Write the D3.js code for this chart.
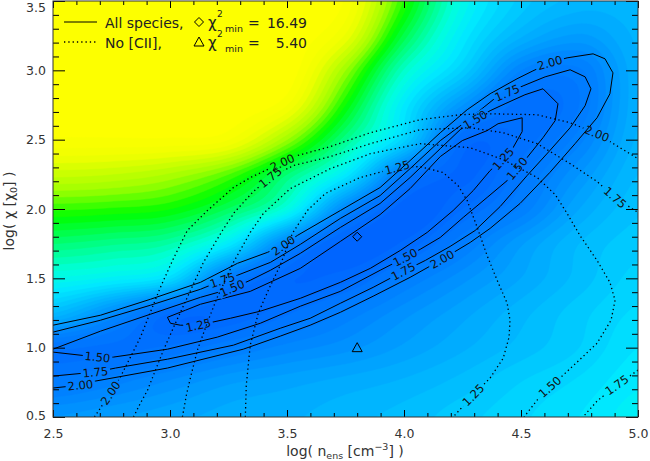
<!DOCTYPE html>
<html>
<head>
<meta charset="utf-8">
<title>chi2 map</title>
<script src="https://cdn.jsdelivr.net/npm/d3@7"></script>
<style>
  body { margin: 0; background: #fff; }
  svg text { font-family: "DejaVu Sans", sans-serif; }
  .axis text { font-size: 12.5px; fill: #333; }
  .axis path { display: none; }
  .axis line { stroke: #000; }
  .clab { font-size: 11.5px; fill: #111; }
</style>
</head>
<body>
<svg id="chart" width="650" height="461"></svg>
<script>
// ---- data ----
var xTicks = [2.5, 3.0, 3.5, 4.0, 4.5, 5.0];
var yTicks = [0.5, 1.0, 1.5, 2.0, 2.5, 3.0, 3.5];

// background chi^2 level (colour index 0..1) on a coarse grid
var gridX = [2.5, 2.75, 3.0, 3.25, 3.5, 3.75, 4.0, 4.25, 4.5, 4.75, 5.0];
var gridY = [3.5, 3.25, 3.0, 2.75, 2.5, 2.25, 2.0, 1.75, 1.5, 1.25, 1.0, 0.75, 0.5];
var levelRows = [
  [1.00, 1.00, 1.00, 1.00, 1.00, 0.97, 0.72, 0.47, 0.34, 0.29, 0.29],
  [1.00, 1.00, 1.00, 1.00, 1.00, 0.92, 0.64, 0.42, 0.28, 0.22, 0.28],
  [1.00, 1.00, 1.00, 1.00, 1.00, 0.80, 0.52, 0.35, 0.15, 0.12, 0.27],
  [1.00, 1.00, 1.00, 1.00, 0.95, 0.70, 0.42, 0.20, 0.06, 0.10, 0.27],
  [0.97, 0.97, 0.97, 0.95, 0.80, 0.58, 0.36, 0.05, 0.06, 0.14, 0.28],
  [0.86, 0.85, 0.82, 0.75, 0.60, 0.42, 0.11, 0.02, 0.09, 0.20, 0.30],
  [0.73, 0.72, 0.70, 0.62, 0.48, 0.16, 0.01, 0.05, 0.13, 0.25, 0.32],
  [0.60, 0.58, 0.55, 0.42, 0.15, 0.01, 0.03, 0.12, 0.22, 0.30, 0.34],
  [0.47, 0.44, 0.38, 0.12, 0.03, 0.04, 0.12, 0.19, 0.25, 0.31, 0.36],
  [0.30, 0.18, 0.05, 0.03, 0.07, 0.13, 0.19, 0.24, 0.29, 0.34, 0.38],
  [0.08, 0.07, 0.08, 0.12, 0.16, 0.19, 0.23, 0.27, 0.31, 0.35, 0.40],
  [0.11, 0.14, 0.18, 0.22, 0.24, 0.26, 0.28, 0.31, 0.35, 0.38, 0.42],
  [0.20, 0.22, 0.24, 0.26, 0.27, 0.29, 0.31, 0.34, 0.37, 0.40, 0.44]
];
var colorStops = [0, 0.15, 0.30, 0.42, 0.50, 0.60, 0.70, 0.80, 0.92, 1.0];
var colorRange = ["#0062ff", "#0084ff", "#00b9ff", "#00ebff", "#00ffdc", "#00ff78", "#00ff00", "#a0ff00", "#f0ff00", "#ffff00"];

// "All species" contours (solid)
var solid200 = [[2.500,0.709],[2.617,0.730],[2.681,0.759],[2.989,0.853],[3.313,0.989],[3.471,1.083],[3.599,1.162],
  [3.728,1.255],[3.868,1.371],[4.026,1.507],[4.163,1.637],[4.283,1.759],[4.368,1.860],[4.496,2.040],[4.623,2.263],
  [4.731,2.471],[4.825,2.658],[4.880,2.831],[4.893,2.982],[4.859,3.083],[4.808,3.119],[4.697,3.090],[4.623,3.054],
  [4.551,2.996],[4.483,2.939],[4.368,2.831],[4.270,2.716],[4.155,2.550],[4.026,2.349],[3.898,2.155],[3.728,1.989],
  [3.544,1.809],[3.484,1.737],[3.416,1.687],[3.288,1.608],[3.130,1.471],[2.916,1.349],[2.703,1.234],[2.500,1.162]];
var solid175 = [[2.500,0.795],[2.681,0.824],[2.767,0.853],[2.989,0.917],[3.271,1.018],[3.471,1.140],[3.599,1.212],
  [3.728,1.320],[3.868,1.435],[3.997,1.550],[4.091,1.629],[4.197,1.730],[4.304,1.845],[4.411,2.018],[4.526,2.241],
  [4.623,2.421],[4.710,2.586],[4.774,2.745],[4.799,2.867],[4.774,2.953],[4.710,3.004],[4.603,2.953],[4.509,2.888],
  [4.441,2.838],[4.381,2.788],[4.270,2.637],[4.155,2.493],[4.026,2.291],[3.898,2.097],[3.728,1.932],[3.557,1.745],
  [3.429,1.615],[3.288,1.522],[3.224,1.486],[3.130,1.421],[2.916,1.306],[2.703,1.198],[2.500,1.112]];
var solid150 = [[2.500,0.968],[2.690,0.932],[2.758,0.932],[2.989,0.989],[3.202,1.076],[3.386,1.176],[3.557,1.299],
  [3.728,1.406],[3.898,1.558],[4.005,1.651],[4.069,1.709],[4.155,1.795],[4.253,1.939],[4.355,2.083],[4.441,2.205],
  [4.483,2.291],[4.526,2.371],[4.594,2.514],[4.646,2.637],[4.658,2.759],[4.594,2.867],[4.517,2.824],[4.432,2.759],
  [4.368,2.709],[4.304,2.644],[4.240,2.572],[4.155,2.435],[4.026,2.227],[3.898,2.040],[3.728,1.867],[3.557,1.680],
  [3.429,1.558],[3.343,1.486],[3.266,1.428],[3.130,1.363],[2.916,1.241],[2.703,1.119],[2.500,0.989]];
var solid125 = [[2.989,1.219],[3.066,1.270],[3.130,1.313],[3.343,1.406],[3.557,1.572],[3.728,1.766],[3.898,1.960],
  [4.026,2.147],[4.155,2.378],[4.249,2.493],[4.355,2.565],[4.402,2.615],[4.505,2.658],[4.505,2.558],[4.466,2.442],
  [4.424,2.363],[4.368,2.277],[4.296,2.133],[4.210,1.989],[4.099,1.831],[3.984,1.701],[3.856,1.572],[3.728,1.471],
  [3.557,1.356],[3.386,1.263],[3.258,1.212],[3.121,1.162],[3.044,1.162],[3.002,1.176],[2.989,1.219]];

// "No [CII]" contours (dotted)
var dotted200 = [[2.677,0.500],[2.711,0.586],[2.746,0.673],[2.788,0.788],[2.831,0.932],[2.874,1.076],[2.916,1.255],
  [2.959,1.435],[3.015,1.644],[3.074,1.845],[3.160,1.989],[3.271,2.155],[3.352,2.234],[3.416,2.284],[3.480,2.335],
  [3.544,2.385],[3.685,2.450],[3.856,2.550],[4.069,2.644],[4.240,2.680],[4.355,2.687],[4.569,2.680],[4.710,2.622],
  [4.825,2.543],[4.923,2.442],[5.000,2.363]];
var dotted175 = [[2.844,0.500],[2.874,0.601],[2.904,0.694],[2.938,0.838],[2.972,0.982],[3.023,1.176],[3.074,1.363],
  [3.143,1.615],[3.224,1.845],[3.275,1.975],[3.356,2.126],[3.429,2.227],[3.527,2.313],[3.685,2.378],[3.856,2.471],
  [4.069,2.572],[4.283,2.586],[4.424,2.550],[4.569,2.471],[4.710,2.327],[4.825,2.198],[4.902,2.083],[5.000,1.975]];
var dotted175b = [[5.000,0.838],[4.953,0.781],[4.910,0.730],[4.825,0.615],[4.765,0.500]];
var dotted150 = [[3.053,0.500],[3.070,0.658],[3.087,0.781],[3.117,0.982],[3.160,1.183],[3.202,1.363],[3.271,1.615],
  [3.343,1.831],[3.399,1.968],[3.514,2.147],[3.685,2.291],[3.856,2.399],[4.069,2.471],[4.283,2.442],[4.424,2.356],
  [4.569,2.227],[4.646,2.104],[4.697,1.968],[4.752,1.809],[4.825,1.629],[4.880,1.471],[4.902,1.342],[4.885,1.198],
  [4.825,1.032],[4.740,0.896],[4.680,0.802],[4.623,0.716],[4.569,0.622],[4.513,0.500]];
var dotted125 = [[3.322,0.500],[3.326,0.730],[3.343,1.018],[3.377,1.248],[3.420,1.414],[3.471,1.594],[3.523,1.824],
  [3.587,1.989],[3.664,2.112],[3.813,2.227],[3.971,2.299],[4.069,2.306],[4.167,2.263],[4.231,2.169],[4.270,2.061],
  [4.313,1.867],[4.355,1.665],[4.398,1.486],[4.441,1.320],[4.453,1.198],[4.449,1.076],[4.424,0.924],[4.368,0.781],
  [4.296,0.658],[4.210,0.500]];

// label anchors [x, y] on each contour
var solid200Labels = [[2.617,0.730],[3.484,1.737],[4.623,3.054],[4.163,1.637]];
var solid175Labels = [[2.681,0.824],[3.224,1.486],[4.441,2.838],[3.997,1.550]];
var solid150Labels = [[2.690,0.932],[3.266,1.428],[4.304,2.644],[4.483,2.291],[4.005,1.651]];
var solid125Labels = [[3.121,1.162],[4.424,2.363]];
var dotted200Labels = [[2.746,0.673],[3.480,2.335],[4.825,2.543]];
var dotted175Labels = [[3.429,2.227],[4.902,2.083]];
var dotted175bLabels = [[4.910,0.730]];
var dotted150Labels = [[4.623,0.716]];
var dotted125Labels = [[3.971,2.299],[4.296,0.658]];

// best-fit points
var minAll = [3.8, 1.8];      // diamond, chi2_min = 16.49
var minNoCII = [3.8, 1.0];    // triangle, chi2_min = 5.40

// ---- chart ----
var margin = {top: 1, right: 12, bottom: 44, left: 53};
var W = 650 - margin.left - margin.right;
var H = 461 - margin.top - margin.bottom;

var svg = d3.select("#chart");
var g = svg.append("g").attr("transform", "translate(" + margin.left + "," + margin.top + ")");

var x = d3.scaleLinear().domain([2.5, 5.0]).range([0, W]);
var y = d3.scaleLinear().domain([0.5, 3.5]).range([H, 0]);
var color = d3.scaleLinear().domain(colorStops).range(colorRange).clamp(true);

svg.append("defs").append("clipPath").attr("id", "plotclip")
  .append("rect").attr("width", W).attr("height", H);

// smooth the coarse grid onto a fine one for the filled contours
function cr(p0, p1, p2, p3, t) {
  return 0.5 * (2 * p1 + (-p0 + p2) * t + (2 * p0 - 5 * p1 + 4 * p2 - p3) * t * t + (-p0 + 3 * p1 - 3 * p2 + p3) * t * t * t);
}
function cell(r, c) {
  r = Math.max(0, Math.min(levelRows.length - 1, r));
  c = Math.max(0, Math.min(gridX.length - 1, c));
  return levelRows[r][c];
}
function sample(cx, cy) {
  var i = Math.min(Math.floor(cx), gridX.length - 2), j = Math.min(Math.floor(cy), gridY.length - 2);
  var tx = cx - i, ty = cy - j, col = [];
  for (var m = -1; m <= 2; m++) {
    col.push(cr(cell(j + m, i - 1), cell(j + m, i), cell(j + m, i + 1), cell(j + m, i + 2), tx));
  }
  return cr(col[0], col[1], col[2], col[3], ty);
}

var nx = 126, ny = 151;
var stepX = (gridX[gridX.length - 1] - gridX[0]) / (nx - 1);
var stepY = (gridY[0] - gridY[gridY.length - 1]) / (ny - 1);
var dgx = gridX[1] - gridX[0], dgy = gridY[0] - gridY[1];
var fine = new Array(nx * ny);
for (var j = 0; j < ny; j++) {
  for (var i = 0; i < nx; i++) {
    var xv = gridX[0] + i * stepX, yv = gridY[0] - j * stepY;
    var v = sample((xv - gridX[0]) / dgx, (gridY[0] - yv) / dgy);
    fine[j * nx + i] = Math.max(0, Math.min(1, v));
  }
}

var thresholds = d3.range(0, 1, 0.025);
var bands = d3.contours().size([nx, ny]).thresholds(thresholds)(fine);
var proj = d3.geoTransform({
  point: function (px, py) {
    this.stream.point(x(gridX[0] + (px - 0.5) * stepX), y(gridY[0] - (py - 0.5) * stepY));
  }
});
var bgPath = d3.geoPath(proj);

var bg = g.append("g").attr("clip-path", "url(#plotclip)");
bg.append("rect").attr("width", W).attr("height", H).attr("fill", color(0));
bg.selectAll("path.band")
  .data(bands)
  .enter().append("path")
  .attr("class", "band")
  .attr("d", bgPath)
  .attr("fill", function (d) { return color(d.value + 0.0125); })
  .attr("stroke", function (d) { return color(d.value + 0.0125); })
  .attr("stroke-width", 0.5);

// ---- contour lines with labelled gaps ----
var line = d3.line().x(function (d) { return x(d[0]); }).y(function (d) { return y(d[1]); });

function snap(pts, lx, ly) {
  var best = null;
  for (var k = 0; k < pts.length - 1; k++) {
    var x1 = x(pts[k][0]), y1 = y(pts[k][1]), x2 = x(pts[k + 1][0]), y2 = y(pts[k + 1][1]);
    var dx = x2 - x1, dy = y2 - y1, L2 = dx * dx + dy * dy;
    var t = L2 ? ((lx - x1) * dx + (ly - y1) * dy) / L2 : 0;
    t = Math.max(0, Math.min(1, t));
    var px = x1 + t * dx, py = y1 + t * dy, d = (px - lx) * (px - lx) + (py - ly) * (py - ly);
    if (!best || d < best.d) best = {d: d, x: px, y: py, a: Math.atan2(dy, dx) * 180 / Math.PI};
  }
  var a = best.a;
  if (a > 90) a -= 180;
  if (a < -90) a += 180;
  return {x: best.x, y: best.y, a: a};
}

var defs = svg.select("defs");
function drawSet(id, sets, dashed) {
  var mask = defs.append("mask").attr("id", id)
    .attr("maskUnits", "userSpaceOnUse")
    .attr("x", -20).attr("y", -20).attr("width", W + 40).attr("height", H + 40);
  mask.append("rect").attr("x", -20).attr("y", -20).attr("width", W + 40).attr("height", H + 40).attr("fill", "#fff");

  var lines = g.append("g").attr("clip-path", "url(#plotclip)")
    .append("g").attr("mask", "url(#" + id + ")");
  var labels = g.append("g").attr("clip-path", "url(#plotclip)");

  sets.forEach(function (s) {
    lines.append("path")
      .attr("d", line(s.pts))
      .attr("fill", "none")
      .attr("stroke", "#000")
      .attr("stroke-width", dashed ? 1.3 : 1)
      .attr("stroke-dasharray", dashed ? "1.3 3" : null);

    s.labels.forEach(function (lb) {
      var p = snap(s.pts, x(lb[0]), y(lb[1]));
      var tr = "translate(" + p.x.toFixed(1) + "," + p.y.toFixed(1) + ") rotate(" + p.a.toFixed(1) + ")";
      var t = labels.append("text")
        .attr("class", "clab")
        .attr("text-anchor", "middle")
        .attr("dy", "0.36em")
        .attr("transform", tr)
        .text(s.level);
      var w = t.node().getComputedTextLength() + 4;
      mask.append("rect")
        .attr("x", -w / 2).attr("y", -5.5).attr("width", w).attr("height", 11)
        .attr("transform", tr).attr("fill", "#000");
    });
  });
}

drawSet("gapSolid", [
  {level: "2.00", pts: solid200, labels: solid200Labels},
  {level: "1.75", pts: solid175, labels: solid175Labels},
  {level: "1.50", pts: solid150, labels: solid150Labels},
  {level: "1.25", pts: solid125, labels: solid125Labels}
], false);

drawSet("gapDotted", [
  {level: "2.00", pts: dotted200, labels: dotted200Labels},
  {level: "1.75", pts: dotted175, labels: dotted175Labels},
  {level: "1.75", pts: dotted175b, labels: dotted175bLabels},
  {level: "1.50", pts: dotted150, labels: dotted150Labels},
  {level: "1.25", pts: dotted125, labels: dotted125Labels}
], true);

// best-fit markers
var diamondPath = "M0,-4.5L4.5,0L0,4.5L-4.5,0Z";
var trianglePath = "M0,-5L5,4L-5,4Z";
g.append("path").attr("d", diamondPath)
  .attr("transform", "translate(" + x(minAll[0]) + "," + y(minAll[1]) + ")")
  .attr("fill", "none").attr("stroke", "#000");
g.append("path").attr("d", trianglePath)
  .attr("transform", "translate(" + x(minNoCII[0]) + "," + y(minNoCII[1]) + ")")
  .attr("fill", "none").attr("stroke", "#000");

// ---- axes ----
var fmt = d3.format(".1f");
function minor(lo, hi) {
  return d3.range(Math.round(lo * 10), Math.round(hi * 10) + 1)
    .filter(function (v) { return v % 5 !== 0; })
    .map(function (v) { return v / 10; });
}
var xMinor = minor(2.5, 5.0), yMinor = minor(0.5, 3.5);

g.append("g").attr("class", "axis").attr("transform", "translate(0," + H + ")")
  .call(d3.axisBottom(x).tickValues(xTicks).tickSize(-7).tickSizeOuter(0).tickPadding(12).tickFormat(fmt));
g.append("g").attr("class", "axis").attr("transform", "translate(0," + H + ")")
  .call(d3.axisBottom(x).tickValues(xMinor).tickSize(-4).tickSizeOuter(0).tickFormat(""));
g.append("g").attr("class", "axis")
  .call(d3.axisTop(x).tickValues(xTicks).tickSize(-7).tickSizeOuter(0).tickFormat(""));
g.append("g").attr("class", "axis")
  .call(d3.axisTop(x).tickValues(xMinor).tickSize(-4).tickSizeOuter(0).tickFormat(""));

var yAxisG = g.append("g").attr("class", "axis")
  .call(d3.axisLeft(y).tickValues(yTicks).tickSize(-12).tickSizeOuter(0).tickPadding(7).tickFormat(fmt));
// keep the end labels inside the picture, as the original does
yAxisG.selectAll(".tick text").attr("y", function (d) { return d === 3.5 ? 6 : (d === 0.5 ? -2 : 0); });
g.append("g").attr("class", "axis")
  .call(d3.axisLeft(y).tickValues(yMinor).tickSize(-6).tickSizeOuter(0).tickFormat(""));
g.append("g").attr("class", "axis").attr("transform", "translate(" + W + ",0)")
  .call(d3.axisRight(y).tickValues(yTicks).tickSize(-12).tickSizeOuter(0).tickFormat(""));
g.append("g").attr("class", "axis").attr("transform", "translate(" + W + ",0)")
  .call(d3.axisRight(y).tickValues(yMinor).tickSize(-6).tickSizeOuter(0).tickFormat(""));

g.append("rect").attr("width", W).attr("height", H)
  .attr("fill", "none").attr("stroke", "#333").attr("stroke-width", 1);

// axis titles
var xt = svg.append("text").attr("x", 345).attr("y", 456)
  .attr("text-anchor", "middle").attr("font-size", 14).attr("fill", "#333");
xt.append("tspan").text("log( n");
xt.append("tspan").attr("font-size", 9.5).attr("dy", 3).text("ens");
xt.append("tspan").attr("dy", -3).text(" [cm");
xt.append("tspan").attr("font-size", 9.5).attr("dy", -6).text("\u22123");
xt.append("tspan").attr("dy", 6).text("] )");

var yt = svg.append("text").attr("transform", "translate(14,211) rotate(-90)")
  .attr("text-anchor", "middle").attr("font-size", 14).attr("fill", "#333");
yt.append("tspan").text("log( \u03c7 [\u03c7");
yt.append("tspan").attr("font-size", 9.5).attr("dy", 3).text("0");
yt.append("tspan").attr("dy", -3).text("] )");

// ---- legend ----
var lg = svg.append("g");
function legendRow(yb, dashed, marker, name, value) {
  lg.append("line").attr("x1", 64).attr("x2", 97).attr("y1", yb - 6).attr("y2", yb - 6)
    .attr("stroke", "#000").attr("stroke-width", dashed ? 1.3 : 1)
    .attr("stroke-dasharray", dashed ? "1.3 3" : null);
  lg.append("text").attr("x", 105).attr("y", yb).attr("font-size", 14).attr("fill", "#222").text(name);
  lg.append("path").attr("d", marker).attr("transform", "translate(199," + (yb - 6) + ")")
    .attr("fill", "none").attr("stroke", "#000");
  lg.append("text").attr("x", 208).attr("y", yb).attr("font-size", 15).attr("fill", "#222").text("\u03c7");
  lg.append("text").attr("x", 217).attr("y", yb - 11).attr("font-size", 9).attr("fill", "#222").text("2");
  lg.append("text").attr("x", 225).attr("y", yb + 4).attr("font-size", 9.5).attr("fill", "#222").text("min");
  lg.append("text").attr("x", 248).attr("y", yb).attr("font-size", 14).attr("fill", "#222").text("=");
  lg.append("text").attr("x", 307).attr("y", yb).attr("text-anchor", "end").attr("font-size", 14).attr("fill", "#222").text(value);
}
legendRow(28, false, diamondPath, "All species,", "16.49");
legendRow(48, true, trianglePath, "No [CII],", "5.40");
</script>
</body>
</html>
